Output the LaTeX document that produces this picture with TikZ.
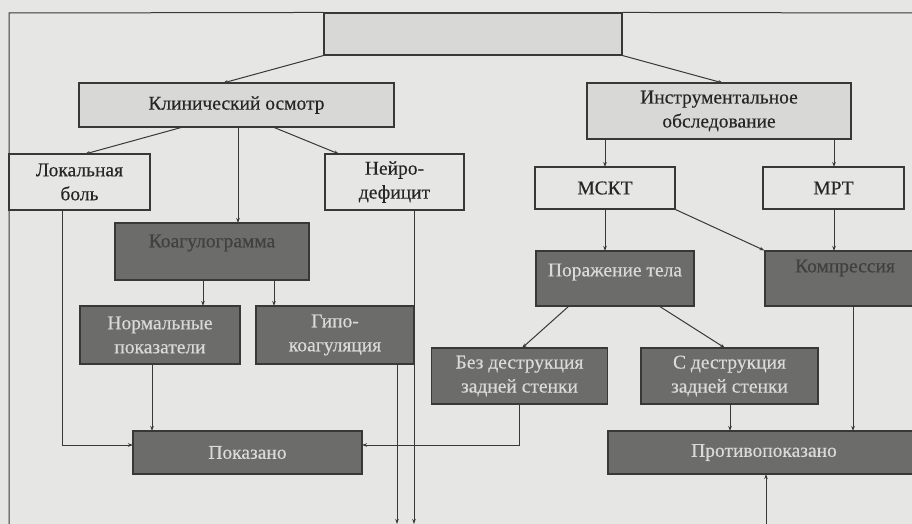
\documentclass[tikz,border=0pt]{standalone}
\usepackage{fontspec}
\setmainfont{Liberation Serif}
\newfontfamily\diagfont{Liberation Serif}[FakeBold=0.4]
\usetikzlibrary{arrows.meta}
\definecolor{paper}{HTML}{E6E6E4}
\definecolor{lightfill}{HTML}{D8D8D6}
\definecolor{darkfill}{HTML}{6C6C6A}
\definecolor{inkc}{HTML}{383838}
\definecolor{lighttext}{HTML}{DADADA}
\tikzset{
  base/.style={draw=inkc, line width=1.1pt, rectangle, inner sep=2pt, align=center,
    font=\diagfont\fontsize{19.5}{24}\selectfont, text=black!85},
  lightbox/.style={base, fill=lightfill},
  plainbox/.style={base, fill=paper},
  darkbox/.style={base, fill=darkfill, text=lighttext},
  conn/.style={draw=inkc, line width=1pt, -{Stealth[length=5pt,width=3.5pt]}},
  plainline/.style={draw=inkc, line width=1pt},
  txt/.style={font=\diagfont\fontsize{19.5}{24}\selectfont, align=center}
}
\begin{document}
\begin{tikzpicture}[x=1pt,y=-1pt]
\useasboundingbox (0,0) rectangle (912,524);
\fill[paper] (0,0) rectangle (912,524);
% boxes
\node[lightbox, minimum width=298, minimum height=42] (top) at (473,34) {};
\node[lightbox, minimum width=315, minimum height=44] (klin) at (236.5,105) {Клинический осмотр};
\node[lightbox, minimum width=264, minimum height=56] (instr) at (719,111) {Инструментальное\\обследование};
\node[plainbox, minimum width=141, minimum height=56] (lok) at (79.5,182) {Локальная\\боль};
\node[plainbox, minimum width=139, minimum height=56] (neuro) at (394.5,182) {Нейро-\\дефицит};
\node[plainbox, minimum width=140, minimum height=42] (mskt) at (605,188) {МСКТ};
\node[plainbox, minimum width=141, minimum height=42] (mrt) at (833.5,188) {МРТ};
\node[darkbox, minimum width=194, minimum height=57] (koag) at (212,251.5) {};
\node[txt, text=black!75] (koagt) at (212,243) {Коагулограмма};
\node[darkbox, minimum width=158, minimum height=55] (porazh) at (615,278.5) {};
\node[txt, text=lighttext] (porazht) at (615,272) {Поражение тела};
\node[darkbox, minimum width=160, minimum height=55] (kompr) at (845,278.5) {};
\node[txt, text=black!75] (komprt) at (845,268) {Компрессия};
\node[darkbox, minimum width=160, minimum height=58] (norm) at (160,335) {Нормальные\\показатели};
\node[darkbox, minimum width=158, minimum height=58] (gipo) at (335,335) {Гипо-\\коагуляция};
\node[darkbox, minimum width=176, minimum height=56] (bez) at (519.5,376) {Без деструкция\\задней стенки};
\node[darkbox, minimum width=177, minimum height=56] (sdestr) at (729.5,376) {С деструкция\\задней стенки};
\node[darkbox, minimum width=229, minimum height=43] (pokaz) at (247.5,452.5) {Показано};
\node[darkbox, minimum width=312, minimum height=43] (protivo) at (764,452.5) {Противопоказано};
% coordinates
\coordinate (tl) at (9,13);
\coordinate (tr) at (912,13);
\coordinate (bl) at (9,524);
\coordinate (b1) at (397,524);
\coordinate (b2) at (414,524);
\coordinate (b3) at (766,524);
\coordinate (c1) at (62,445);
\coordinate (c2) at (519,445);
% frame lines
\draw[plainline] (top.north west) -- (tl) -- (bl);
\draw[plainline] (top.north east) -- (tr);
% connectors
\draw[conn] (top.south west) -- (223,83);
\draw[conn] (top.south east) -- (723,83);
\draw[conn] (183,127) -- (85,154);
\draw[conn] (273,127) -- (339,154);
\draw[conn] (238,127) -- (238,223);
\draw[conn] (605,139) -- (605,167);
\draw[conn] (834,139) -- (834,167);
\draw[conn] (605,209) -- (605,251);
\draw[conn] (mskt.south east) -- (kompr.north west);
\draw[conn] (834,209) -- (834,251);
\draw[conn] (203,280) -- (203,306);
\draw[conn] (274,280) -- (274,306);
\draw[conn] (152,364) -- (152,431);
\draw[conn] (62,210) -- (c1) -- (133,445);
\draw[conn] (519,404) -- (c2) -- (362,445);
\draw[conn] (397,364) -- (b1);
\draw[conn] (414,210) -- (b2);
\draw[conn] (b3) -- (766,474);
\draw[conn] (569,306) -- (522,348);
\draw[conn] (659,306) -- (725,348);
\draw[conn] (730,404) -- (730,431);
\draw[conn] (853,306) -- (853,431);
\end{tikzpicture}
\end{document}
